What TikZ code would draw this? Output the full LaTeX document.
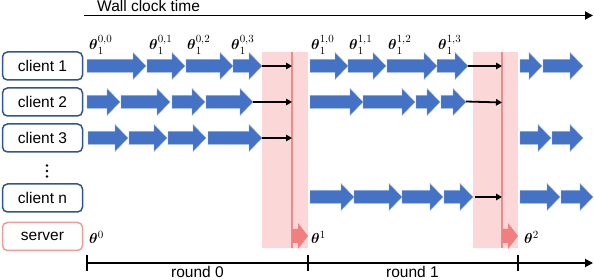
\documentclass[tikz,border=0pt]{standalone}
\usepackage{amsmath}
\usepackage{fontspec}
\setmainfont{Liberation Sans}
\usetikzlibrary{arrows.meta}
\definecolor{boxblue}{HTML}{2F5597}
\definecolor{arrblue}{HTML}{4472C4}
\definecolor{arredge}{HTML}{8FAADC}
\definecolor{bandpink}{HTML}{FCD7D7}
\definecolor{linered}{HTML}{EF8A87}
\definecolor{srvred}{HTML}{F08080}
\definecolor{srvbox}{HTML}{F19A96}
\newcommand\blk[3]{%
  \filldraw[fill=arrblue,draw=arredge,line width=0.4pt]
    (#1,{#3-6.5}) -- ({#2-13},{#3-6.5}) -- ({#2-13},{#3-13.5}) -- (#2,#3)
    -- ({#2-13},{#3+13.5}) -- ({#2-13},{#3+6.5}) -- (#1,{#3+6.5}) -- cycle;}
\newcommand\srvarrow[2]{%
  \fill[srvred]
    (#1,229) -- ({#2-10},229) -- ({#2-10},223) -- (#2,236)
    -- ({#2-10},249) -- ({#2-10},243) -- (#1,243) -- cycle;}
\begin{document}
\begin{tikzpicture}[x=1pt,y=-1pt,
  every node/.style={inner sep=0pt},
  txt/.style={font=\fontsize{15.5}{18}\selectfont},
  clientbox/.style={draw=boxblue,line width=1.5pt,rounded corners=5pt,
    minimum width=80pt,minimum height=28pt,txt},
  serverbox/.style={clientbox,draw=srvbox},
  theta/.style={anchor=base west,font=\fontsize{15.5}{18}\selectfont},
  conn/.style={line width=1.8pt,-{Triangle[length=6pt,width=6.5pt]}},
  axis/.style={line width=1.8pt},
  band/.style={fill=bandpink},
  redline/.style={draw=linered,line width=1.2pt}]
\useasboundingbox (0,0) rectangle (594,280);

% wall clock axis
\node[txt,anchor=base west] (wall) at (97,11.8) {Wall clock time};
\coordinate (w0) at (84,15.5);
\coordinate (w1) at (593,15.5);
\draw[axis,-{Triangle[length=8pt,width=8pt]}] (w0) -- (w1);

% boxes
\node[clientbox] (c1) at (42.5,66) {client 1};
\node[clientbox] (c2) at (42.5,102) {client 2};
\node[clientbox] (c3) at (42.5,138) {client 3};
\node[clientbox] (cn) at (42.5,198) {client n};
\node[serverbox] (srv) at (42.5,236.5) {server};
\foreach \yy in {165.5,171,176.5} \fill (47,\yy) circle (1.4);

% synchronisation bands
\fill[band] (262,52) rectangle (308,248);
\fill[band] (473,52) rectangle (518,248);
\coordinate (s0t) at (292,52); \coordinate (s0b) at (292,248);
\coordinate (s1t) at (502,52); \coordinate (s1b) at (502,248);
\draw[redline] (s0t) -- (s0b);
\draw[redline] (s1t) -- (s1b);

% round 0 local steps
\blk{87}{146}{66}\blk{147}{185}{66}\blk{186}{233}{66}\blk{233}{262}{66}
\blk{87}{120}{102}\blk{121}{170}{102}\blk{172}{205}{102}\blk{206}{253}{102}
\blk{88}{128}{138}\blk{129}{167}{138}\blk{168}{206}{138}\blk{208}{262}{138}

% round 1 local steps
\blk{310}{348}{66}\blk{348}{386}{66}\blk{387}{437}{66}\blk{437}{468}{66}
\blk{310}{363}{102}\blk{363}{415}{102}\blk{416}{440}{102}\blk{441}{466}{102}
\blk{310}{354}{197}\blk{354}{402}{197}\blk{402}{443}{197}\blk{444}{473}{197}

% round 2 local steps
\blk{520}{542}{66}\blk{543}{583}{66}
\blk{520}{551}{138}\blk{552}{583}{138}
\blk{520}{560}{197}\blk{561}{593}{197}

% uploads to server
\coordinate (a01) at (262,66);  \coordinate (b01) at (292,66);
\coordinate (a02) at (253,102); \coordinate (b02) at (292,102);
\coordinate (a03) at (262,138); \coordinate (b03) at (292,138);
\draw[conn] (a01) -- (b01);
\draw[conn] (a02) -- (b02);
\draw[conn] (a03) -- (b03);
\coordinate (a11) at (468,66);  \coordinate (b11) at (502,66);
\coordinate (a12) at (466,101.5); \coordinate (b12) at (502,102.5);
\coordinate (a1n) at (475,197); \coordinate (b1n) at (502,197);
\draw[conn] (a11) -- (b11);
\draw[conn] (a12) -- (b12);
\draw[conn] (a1n) -- (b1n);

% server aggregation
\srvarrow{292}{308}
\srvarrow{502}{518}

% theta labels
\node[theta] (t00) at (89,50)  {$\boldsymbol{\theta}_1^{0,0}$};
\node[theta] (t01) at (149,50) {$\boldsymbol{\theta}_1^{0,1}$};
\node[theta] (t02) at (187,50) {$\boldsymbol{\theta}_1^{0,2}$};
\node[theta] (t03) at (231,50) {$\boldsymbol{\theta}_1^{0,3}$};
\node[theta] (t10) at (311,50) {$\boldsymbol{\theta}_1^{1,0}$};
\node[theta] (t11) at (349,50) {$\boldsymbol{\theta}_1^{1,1}$};
\node[theta] (t12) at (388,50) {$\boldsymbol{\theta}_1^{1,2}$};
\node[theta] (t13) at (438,50) {$\boldsymbol{\theta}_1^{1,3}$};
\node[theta] (g0) at (89,244)  {$\boldsymbol{\theta}^{0}$};
\node[theta] (g1) at (311,244) {$\boldsymbol{\theta}^{1}$};
\node[theta] (g2) at (524,244) {$\boldsymbol{\theta}^{2}$};

% rounds axis
\coordinate (r0) at (87,263);
\coordinate (r1) at (308,263);
\coordinate (r2) at (518,263);
\coordinate (rend) at (593,263);
\draw[axis,-{Triangle[length=8pt,width=8pt]}] (r0) -- (rend);
\foreach \p in {r0,r1,r2} \draw[line width=1.5pt] ([yshift=8pt]\p) -- ([yshift=-8pt]\p);
\node[txt,anchor=base] (l0) at (197.5,278) {round 0};
\node[txt,anchor=base] (l1) at (412.5,278) {round 1};
\end{tikzpicture}
\end{document}
